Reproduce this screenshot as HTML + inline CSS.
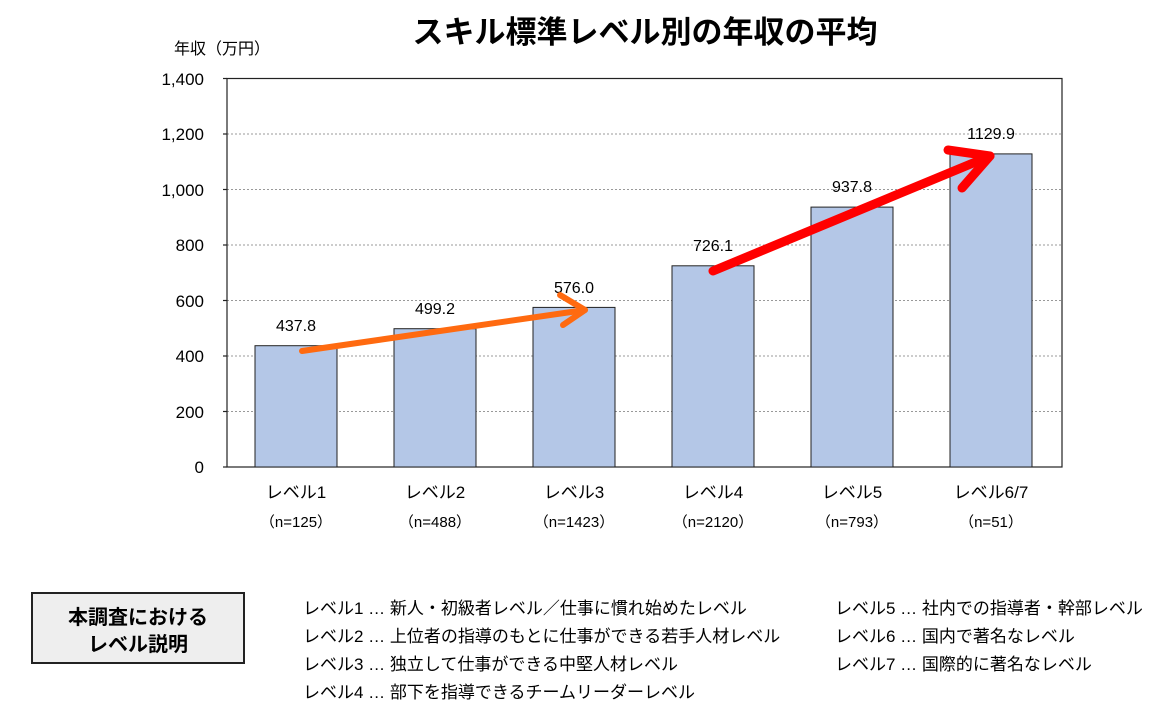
<!DOCTYPE html>
<html><head><meta charset="utf-8"><style>
body{margin:0;background:#fff;}
svg text{font-family:"Liberation Sans","Noto Sans CJK JP",sans-serif;}
</style></head><body>
<svg width="1162" height="718" xmlns="http://www.w3.org/2000/svg">
<text x="645" y="43" font-size="31" font-weight="bold" text-anchor="middle">スキル標準レベル別の年収の平均</text>
<text x="174" y="54" font-size="16">年収（万円）</text>
<g stroke="#999" stroke-dasharray="2,2" stroke-width="1">
<line x1="227" y1="134" x2="1062" y2="134"/><line x1="227" y1="189.5" x2="1062" y2="189.5"/>
<line x1="227" y1="245" x2="1062" y2="245"/><line x1="227" y1="300.5" x2="1062" y2="300.5"/>
<line x1="227" y1="356" x2="1062" y2="356"/><line x1="227" y1="411.5" x2="1062" y2="411.5"/>
</g>
<rect x="227" y="78.5" width="835" height="388.5" fill="none" stroke="#222" stroke-width="1.2"/>
<g stroke="#222" stroke-width="1.2">
<line x1="223" y1="78.5" x2="227" y2="78.5"/><line x1="223" y1="134" x2="227" y2="134"/><line x1="223" y1="189.5" x2="227" y2="189.5"/><line x1="223" y1="245" x2="227" y2="245"/><line x1="223" y1="300.5" x2="227" y2="300.5"/><line x1="223" y1="356" x2="227" y2="356"/><line x1="223" y1="411.5" x2="227" y2="411.5"/><line x1="223" y1="467" x2="227" y2="467"/>
</g>
<g font-size="17" text-anchor="end">
<text x="204" y="85">1,400</text><text x="204" y="140">1,200</text><text x="204" y="196">1,000</text><text x="204" y="251">800</text><text x="204" y="307">600</text><text x="204" y="362">400</text><text x="204" y="418">200</text><text x="204" y="473">0</text>
</g>
<g fill="#b4c7e7" stroke="#222" stroke-width="1">
<rect x="255" y="345.7" width="82" height="121.3"/>
<rect x="394" y="328.7" width="82" height="138.3"/>
<rect x="533" y="307.4" width="82" height="159.6"/>
<rect x="672" y="265.8" width="82" height="201.2"/>
<rect x="811" y="207.1" width="82" height="259.9"/>
<rect x="950" y="153.9" width="82" height="313.1"/>
</g>
<g font-size="16" text-anchor="middle">
<text x="296" y="331">437.8</text><text x="435" y="314">499.2</text><text x="574" y="293">576.0</text><text x="713" y="251">726.1</text><text x="852" y="192">937.8</text><text x="991" y="139">1129.9</text>
</g>
<g font-size="17" text-anchor="middle">
<text x="296" y="498">レベル1</text><text x="435" y="498">レベル2</text><text x="574" y="498">レベル3</text><text x="713" y="498">レベル4</text><text x="852" y="498">レベル5</text><text x="991" y="498">レベル6/7</text>
</g>
<g font-size="15" text-anchor="middle">
<text x="296" y="527">（n=125）</text><text x="435" y="527">（n=488）</text><text x="574" y="527">（n=1423）</text><text x="713" y="527">（n=2120）</text><text x="852" y="527">（n=793）</text><text x="991" y="527">（n=51）</text>
</g>
<g stroke="#ff6a10" stroke-width="6" fill="none" stroke-linecap="round" stroke-linejoin="round">
<line x1="302" y1="351" x2="585" y2="310"/><polyline points="560,295 585,310 563,325"/>
</g>
<g stroke="#ff0000" stroke-width="9" fill="none" stroke-linecap="round" stroke-linejoin="round">
<line x1="713" y1="271" x2="990" y2="156"/><polyline points="948,150 990,156 962,188"/>
</g>
<rect x="32" y="593" width="212" height="70" fill="#eeeeee" stroke="#222" stroke-width="2"/>
<text x="138" y="624" font-size="20" font-weight="bold" text-anchor="middle">本調査における</text>
<text x="138" y="651" font-size="20" font-weight="bold" text-anchor="middle">レベル説明</text>
<g font-size="17">
<text x="303" y="614">レベル1 … 新人・初級者レベル／仕事に慣れ始めたレベル</text>
<text x="303" y="642">レベル2 … 上位者の指導のもとに仕事ができる若手人材レベル</text>
<text x="303" y="670">レベル3 … 独立して仕事ができる中堅人材レベル</text>
<text x="303" y="698">レベル4 … 部下を指導できるチームリーダーレベル</text>
<text x="835" y="614">レベル5 … 社内での指導者・幹部レベル</text>
<text x="835" y="642">レベル6 … 国内で著名なレベル</text>
<text x="835" y="670">レベル7 … 国際的に著名なレベル</text>
</g>
</svg>
</body></html>
